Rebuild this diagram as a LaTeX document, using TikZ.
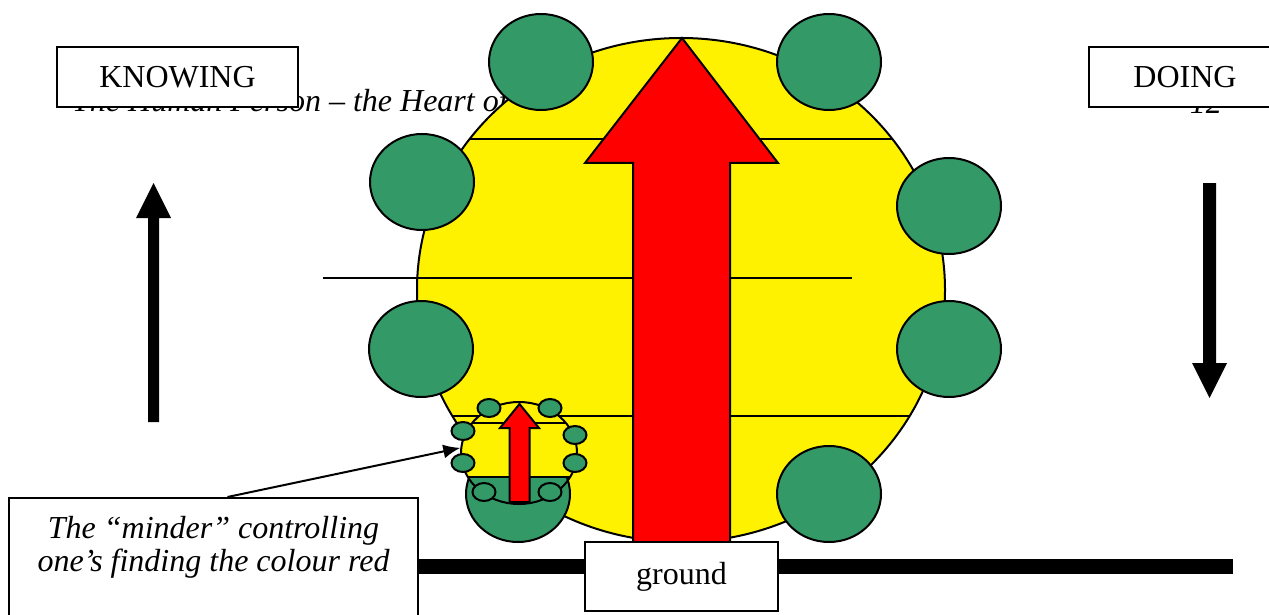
\documentclass[tikz,border=0pt]{standalone}
\usepackage{fontspec}
\setmainfont{Liberation Serif}
\usetikzlibrary{shapes.geometric,arrows.meta}

\definecolor{leafgreen}{RGB}{51,153,102}

\begin{document}
\fontsize{32}{33}\selectfont
\begin{tikzpicture}[
    x=1pt, y=-1pt,
    tagbox/.style={draw, fill=white, line width=2pt, rectangle, inner sep=0pt, align=center},
    ball/.style={draw, fill=leafgreen, line width=2pt, ellipse, inner sep=0pt, minimum width=104pt, minimum height=96pt},
    seed/.style={ball, minimum width=23pt, minimum height=18pt},
    chord/.style={draw, line width=2pt},
    redarrow/.style={draw, fill=red, line width=2pt, line join=miter},
    line/.style={draw, line width=2pt, -{Latex[length=17pt,width=14pt]}}
]
\clip (0,0) rectangle (1269,615);

\node[font=\itshape, anchor=base west, inner sep=0pt] (header) at (72,112) {The Human Person – the Heart of};
\node[font=\itshape, anchor=base east, inner sep=0pt] (page) at (1222,114) {12};

\draw[line width=15pt] (300,566) -- (1233,566);

\node[draw, fill=yellow, ellipse, line width=2pt, inner sep=0pt, minimum width=528pt, minimum height=504pt] (person) at (681,290) {};
\draw[chord] (469.6,139) -- (892.4,139);
\draw[chord] (323,278) -- (852,278);
\draw[chord] (452.4,416) -- (909.6,416);

\node[ball] (nw) at (541,62) {};
\node[ball] (ne) at (829,62) {};
\node[ball] (wn) at (422,182) {};
\node[ball] (ws) at (421,349) {};
\node[ball] (en) at (949,206) {};
\node[ball] (es) at (949,349) {};
\node[ball] (sw) at (518,494) {};
\node[ball] (se) at (829,494) {};

\filldraw[redarrow] (682,38) -- (778,163) -- (730,163) -- (730,542) -- (633,542) -- (633,163) -- (585,163) -- cycle;

\begin{scope}
\clip (440,380) rectangle (600,477);
\fill[yellow] (519,453) ellipse [x radius=58, y radius=51];
\end{scope}
\node[draw, ellipse, line width=2pt, inner sep=0pt, minimum width=116pt, minimum height=102pt] (mini) at (519,453) {};
\draw[chord] (472,423) -- (566,423);
\draw[chord] (468,477) -- (570,477);
\node[seed] (mnw) at (489,408) {};
\node[seed] (mne) at (550,408) {};
\node[seed] (mwn) at (463,431) {};
\node[seed] (mws) at (463,463) {};
\node[seed] (men) at (575,435) {};
\node[seed] (mes) at (575,463) {};
\node[seed] (msw) at (484,492) {};
\node[seed] (mse) at (550,492) {};
\filldraw[redarrow] (519.5,404) -- (539,428) -- (529.5,428) -- (529.5,502) -- (509.5,502) -- (509.5,428) -- (500,428) -- cycle;

\fill (148,422) -- (148,218) -- (136,218) -- (153.5,183) -- (171,218) -- (159,218) -- (159,422) -- cycle;
\fill (1203,183) -- (1203,363) -- (1192,363) -- (1209.5,398) -- (1227,363) -- (1216,363) -- (1216,183) -- cycle;

\node[tagbox, minimum width=241pt, minimum height=60pt] (knowing) at (177.5,77) {KNOWING};
\node[tagbox, minimum width=192pt, minimum height=60pt] (doing) at (1185,77) {DOING};
\node[tagbox, minimum width=193pt, minimum height=69pt] (ground) at (681.5,576.5) {ground};
\node[tagbox, minimum width=409pt, minimum height=140pt, anchor=north] (minder) at (213.5,497) {};
\node[font=\itshape, align=center, anchor=north, inner sep=0pt] (mindertext) at (213.5,516) {The “minder” controlling\\one’s finding the colour red};

\draw[line] ([xshift=14pt]minder.north) -- (mini.175);

\end{tikzpicture}
\end{document}
